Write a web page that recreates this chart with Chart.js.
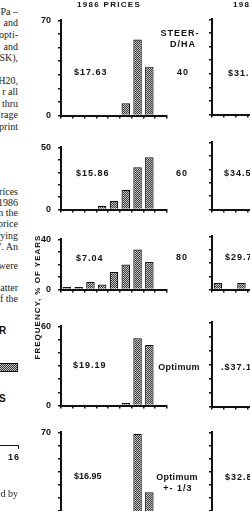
<!DOCTYPE html>
<html>
<head>
<meta charset="utf-8">
<script src="https://cdn.jsdelivr.net/npm/chart.js@4.4.1/dist/chart.umd.min.js"></script>
<style>
    html, body { margin: 0; padding: 0; background: #fff; overflow: hidden; }
    #page { position: relative; width: 250px; height: 511px; overflow: hidden; background: #fff; }
    canvas { position: absolute; z-index: 1; }
    .t { position: absolute; z-index: 2; white-space: nowrap; color: #111;
         font-family: 'Liberation Sans', Arial, sans-serif; font-weight: bold;
         font-size: 9px; line-height: 10px; letter-spacing: 1px; transform: translateY(-50%); }
    .c { width: 60px; text-align: center; }
    .s { position: absolute; z-index: 2; white-space: nowrap; color: #222; right: 232px;
         font-family: 'Liberation Serif', 'DejaVu Serif', serif; font-size: 10px;
         line-height: 11px; transform: translateY(-50%); }
    #ylab { position: absolute; z-index: 2; left: -27px; top: 292px; width: 130px; text-align: center;
            font-family: 'Liberation Sans', Arial, sans-serif; font-weight: bold; font-size: 8px;
            line-height: 10px; letter-spacing: 1px; color: #111; transform: rotate(-90deg); }
    #swatch { position: absolute; left: -1px; top: 363px; width: 17px; height: 7px; border: 1px solid #111;
              background: repeating-conic-gradient(#3a3a3a 0 25%, #c4c4c4 0 50%) 0 0 / 2px 2px; }
</style>
</head>
<body>
<div id="page">
    <!-- bits of the body text column cut by the scan -->
    <div class="s" style="top:11px">Pa –</div>
    <div class="s" style="top:22px">and</div>
    <div class="s" style="top:34px">opti-</div>
    <div class="s" style="top:46px">and</div>
    <div class="s" style="top:57px">SK),</div>
    <div class="s" style="top:80px">H20,</div>
    <div class="s" style="top:91px">r all</div>
    <div class="s" style="top:103px">thru</div>
    <div class="s" style="top:114px">rage</div>
    <div class="s" style="top:126px">print</div>
    <div class="s" style="top:191px">rices</div>
    <div class="s" style="top:202px">1986</div>
    <div class="s" style="top:212px">n the</div>
    <div class="s" style="top:223px">price</div>
    <div class="s" style="top:235px">rying</div>
    <div class="s" style="top:246px">'. An</div>
    <div class="s" style="top:265px">were</div>
    <div class="s" style="top:287px">atter</div>
    <div class="s" style="top:298px">f the</div>
    <div class="t" style="left:-1px; top:331px; font-size:10px">R</div>
    <div id="swatch"></div>
    <div class="t" style="left:-1px; top:399px; font-size:10px">S</div>
    <div style="position:absolute; left:0; top:445px; width:19px; border-top:1.5px solid #111"></div>
    <div style="position:absolute; left:18px; top:445px; height:4px; border-left:1.5px solid #111"></div>
    <div class="t" style="left:8px; top:457px">16</div>
    <div class="s" style="top:493px">ed by</div>

    <!-- titles and labels -->
    <div class="t" style="left:77px; top:5px; font-size:8px; letter-spacing:1.3px">1986 PRICES</div>
    <div class="t" style="left:233px; top:5px; font-size:8px; letter-spacing:1.3px">198</div>
    <div id="ylab">FREQUENCY, % OF YEARS</div>

    <div class="t c" style="left:150px; top:33px">STEER-</div>
    <div class="t c" style="left:153px; top:44px">D/HA</div>
    <div class="t c" style="left:153px; top:72px">40</div>
    <div class="t c" style="left:152px; top:173px">60</div>
    <div class="t c" style="left:152px; top:257px">80</div>
    <div class="t c" style="left:149px; top:367px; letter-spacing:0.3px">Optimum</div>
    <div class="t c" style="left:147px; top:477px; letter-spacing:0.3px">Optimum</div>
    <div class="t c" style="left:148px; top:488px">+- 1/3</div>

    <div class="t" style="left:74px; top:72px">$17.63</div>
    <div class="t" style="left:76px; top:173px">$15.86</div>
    <div class="t" style="left:76px; top:258px">$7.04</div>
    <div class="t" style="left:73px; top:365px">$19.19</div>
    <div class="t" style="left:74px; top:476px; letter-spacing:0">$16.95</div>

    <div class="t" style="left:228px; top:73px">$31.</div>
    <div class="t" style="left:224px; top:173px">$34.5</div>
    <div class="t" style="left:225px; top:257px">$29.7</div>
    <div class="t" style="left:221px; top:367px">.$37.1</div>
    <div class="t" style="left:225px; top:477px">$32.8</div>

    <canvas id="p1"></canvas>
    <canvas id="p2"></canvas>
    <canvas id="p3"></canvas>
    <canvas id="p4"></canvas>
    <canvas id="p5"></canvas>
    <canvas id="r1"></canvas>
    <canvas id="r2"></canvas>
    <canvas id="r3"></canvas>
    <canvas id="r4"></canvas>
    <canvas id="r5"></canvas>
</div>

<script>
// ============================================================
// DATA - frequency (% of years) per return class
// ============================================================
const bins = ['1', '2', '3', '4', '5', '6', '7', '8', '9'];

// 1986 prices
const steer40 = [0, 0, 0, 0, 0, 9, 56, 36, 0];
const steer60 = [0, 0, 0, 3, 7, 16, 34, 42, 0];
const steer80 = [2, 2, 6, 4, 14, 20, 32, 22, 0];
const optimum = [0, 0, 0, 0, 0, 2, 51, 46, 0];
const optimumThird = [0, 0, 0, 0, 0, 7, 69, 24, 0];
const leftMax = [70, 50, 40, 60, 70];

// second price column (only first classes are inside the picture)
const r40 = [0, 0, 0];
const r60 = [0, 0, 0];
const r80 = [5, 0, 5];
const rOptimum = [0, 0, 0];
const rOptimumThird = [];
const rightMax = [70, 50, 40, 60, 70];

// ============================================================
// dotted fill like the printed bars
// ============================================================
function makeDots() {
    const c = document.createElement('canvas');
    c.width = 2; c.height = 2;
    const g = c.getContext('2d');
    g.fillStyle = '#c4c4c4';
    g.fillRect(0, 0, 2, 2);
    g.fillStyle = '#3a3a3a';
    g.fillRect(0, 0, 1, 1);
    g.fillRect(1, 1, 1, 1);
    return g.createPattern(c, 'repeat');
}
const dots = makeDots();

// ============================================================
// one histogram panel
// box = page pixels of the y axis, right end, top value and zero line
// ============================================================
function drawPanel(id, values, yMax, box, showLabels) {
    const pad = 8;
    const axisW = 41;
    const cv = document.getElementById(id);
    const left = box.axis - axisW;
    const top = box.top - pad;
    cv.width = box.right + 2 - left;
    cv.height = box.zero - top + 6;
    cv.style.left = left + 'px';
    cv.style.top = top + 'px';

    const gridOpts = { drawOnChartArea: false, drawTicks: true, tickLength: 3, color: '#111', lineWidth: 1.5 };

    new Chart(cv.getContext('2d'), {
        type: 'bar',
        data: {
            labels: bins,
            datasets: [{
                data: values,
                backgroundColor: dots,
                borderColor: '#111',
                borderWidth: 1.2,
                borderSkipped: 'bottom',
                categoryPercentage: 1,
                barPercentage: 0.72
            }]
        },
        options: {
            responsive: false,
            animation: false,
            layout: { padding: { top: pad, right: 2, left: 0, bottom: 0 } },
            plugins: { legend: { display: false }, tooltip: { enabled: false } },
            scales: {
                x: {
                    offset: true,
                    grid: Object.assign({ offset: true }, gridOpts),
                    border: { display: true, color: '#111', width: 2 },
                    ticks: { display: false },
                    afterFit: s => { s.height = 6; }
                },
                y: {
                    min: 0,
                    max: yMax,
                    grid: gridOpts,
                    border: { display: true, color: '#111', width: 2 },
                    ticks: {
                        stepSize: 10,
                        autoSkip: false,
                        padding: 7,
                        color: '#111',
                        font: { family: 'Liberation Sans', size: 9, weight: 'bold' },
                        callback: v => (showLabels && (v === 0 || v === yMax)) ? String(v) : ''
                    },
                    afterFit: s => { s.width = axisW; }
                }
            }
        }
    });
}

// ============================================================
// draw everything
// ============================================================
const leftBoxes = [
    { axis: 61, right: 167, top: 16, zero: 122 },
    { axis: 61, right: 167, top: 143, zero: 216 },
    { axis: 61, right: 167, top: 235, zero: 296 },
    { axis: 61, right: 167, top: 322, zero: 412 },
    { axis: 61, right: 167, top: 428, zero: 530 }
];
const rightBoxes = [
    { axis: 212, right: 318, top: 15, zero: 121 },
    { axis: 212, right: 318, top: 138, zero: 216 },
    { axis: 212, right: 318, top: 232, zero: 296 },
    { axis: 212, right: 318, top: 318, zero: 413 },
    { axis: 212, right: 318, top: 428, zero: 530 }
];

[steer40, steer60, steer80, optimum, optimumThird].forEach((vals, i) => {
    drawPanel('p' + (i + 1), vals, leftMax[i], leftBoxes[i], true);
});
[r40, r60, r80, rOptimum, rOptimumThird].forEach((vals, i) => {
    drawPanel('r' + (i + 1), vals, rightMax[i], rightBoxes[i], false);
});
</script>
</body>
</html>
